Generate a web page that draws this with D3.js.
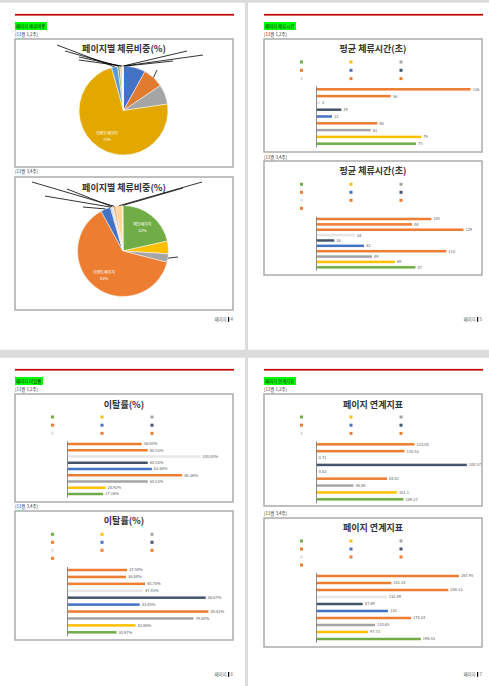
<!DOCTYPE html>
<html><head><meta charset="utf-8">
<script src="https://cdn.jsdelivr.net/npm/d3@7"></script>
<style>body{margin:0;background:#fff}svg{display:block}text{font-family:"Noto Sans CJK KR","Noto Sans",sans-serif}</style>
</head><body><svg id="c" width="489" height="686"></svg>
<script>
// ---------- DATA ----------
const pageCats = ["메인페이지","상품페이지","검색페이지","이벤트페이지","장바구니","주문페이지","회원가입","로그인","마이페이지","고객센터"];
const shareW12 = [8, 7.5, 7.2, 73, 2.2, 0.8, 0.7, 0.3, 0.3];
const shareW34 = [21.5, 4.5, 3, 63, 3.5, 0.4, 0.6, 1, 2.3, 0.2];
const dwellW12 = [75, 79, 41, 46, 12, 19, 3, 56, 116];
const dwellW34 = [87, 69, 49, 114, 42, 16, 34, 129, 84, 101];
const bounceW12 = [27.16, 28.92, 60.53, 86.36, 63.64, 60.53, 100.00, 60.53, 56.00];
const bounceW34 = [30.97, 42.86, 79.08, 88.42, 45.45, 86.67, 47.45, 48.78, 36.84, 37.50];
const linkW12 = [109.27, 101.1, 46.88, 88.81, 0.83, 188.57, 0.71, 110.53, 123.08];
const linkW34 = [196.53, 97.71, 110.65, 178.24, 135, 87.49, 132.49, 248.13, 141.18, 267.95];
const weekLabels = ["[11월 1,2주]", "[11월 3,4주]"];
const sectionLabels = ["페이지 체류비중", "페이지 체류시간", "페이지 이탈률", "페이지 연계지표"];
const chartTitles = ["페이지별 체류비중(%)", "평균 체류시간(초)", "이탈률(%)", "페이지 연계지표"];
const pageNums = ["4", "5", "6", "7"];

// ---------- STYLE ----------
const barColors = ["#70AD47","#FFC000","#A5A5A5","#ED7D31","#4472C4","#44546A","#E7E6E6","#ED7D31","#ED7D31","#ED7D31"];
const pieColorsA = ["#4472C4","#E07A2E","#A5A5A5","#E2A800","#5B9BD5","#70AD47","#F4B183","#FFFFFF","#F8CBAD"];
const pieColorsB = ["#70AD47","#FFC000","#A5A5A5","#ED7D31","#4472C4","#8497B0","#D9D9D9","#F4B183","#FFD699","#F8CBAD"];

const svg = d3.select("#c");
svg.append("rect").attr("width",489).attr("height",686).attr("fill","#dcdcdc");

const pages = [
  {x:0, y:2.7, w:245, h:347, cx:15, lw:32},
  {x:248, y:2.7, w:241, h:347, cx:264, lw:32},
  {x:0, y:357.7, w:245, h:328.3, cx:15, lw:28},
  {x:248, y:357.7, w:241, h:328.3, cx:264, lw:32}
];
pages.forEach((p,i)=>{
  svg.append("rect").attr("x",p.x).attr("y",p.y).attr("width",p.w).attr("height",p.h).attr("fill","#fff");
  svg.append("rect").attr("x",p.cx).attr("y",p.y+11.2).attr("width",219).attr("height",1.7).attr("fill","#C00000");
  svg.append("rect").attr("x",p.cx).attr("y",p.y+19.3).attr("width",p.lw).attr("height",8).attr("fill","#00FF00");
  svg.append("text").attr("x",p.cx+1).attr("y",p.y+25.2).attr("font-size",4.4).attr("fill","#222").text(sectionLabels[i]);
  svg.append("text").attr("x",p.cx).attr("y",p.y+33.2).attr("font-size",4.4).attr("fill","#333").text(weekLabels[0]);
  const ny = p.y + 318.3;
  const rx = p.cx + 218;
  svg.append("text").attr("x",rx).attr("y",ny).attr("text-anchor","end").attr("font-size",4.4).attr("fill","#555").text(pageNums[i]);
  svg.append("rect").attr("x",rx-5).attr("y",ny-4).attr("width",1.2).attr("height",4.8).attr("fill","#000");
  svg.append("text").attr("x",rx-6.5).attr("y",ny).attr("text-anchor","end").attr("font-size",4.4).attr("fill","#555").text("페이지");
});

function frame(x,y,h,title,titleY){
  svg.append("rect").attr("x",x).attr("y",y).attr("width",218).attr("height",h)
    .attr("fill","#fff").attr("stroke","#a6a6a6").attr("stroke-width",1.4);
  svg.append("text").attr("x",x+109).attr("y",titleY+3.2).attr("text-anchor","middle")
    .attr("font-size",9).attr("font-weight","bold").attr("fill","#333").text(title);
}
function subLabel(x,y,t){
  svg.append("text").attr("x",x).attr("y",y+1.6).attr("font-size",4.4).attr("fill","#333").text(t);
}

// ---------- PIES ----------
function pieChart(cfg, values, colors){
  frame(cfg.x,cfg.y,cfg.h,chartTitles[0],cfg.titleY);
  const g = svg.append("g").attr("transform",`translate(${cfg.cx},${cfg.cy})`);
  const arcs = d3.pie().sort(null).value(d=>d)(values);
  const arc = d3.arc().innerRadius(0).outerRadius(cfg.r);
  g.selectAll("path").data(arcs).join("path").attr("d",arc)
    .attr("fill",(d,i)=>colors[i]).attr("stroke","#fff").attr("stroke-width",0.5);
  const lab = d3.arc().innerRadius(cfg.r*0.68).outerRadius(cfg.r*0.68);
  cfg.labels.forEach(i=>{
    const [lx,ly] = lab.centroid(arcs[i]);
    const t = g.append("text").attr("text-anchor","middle").attr("font-size",4).attr("fill","#fff");
    t.append("tspan").attr("x",lx).attr("y",ly-1).text(pageCats[i]);
    t.append("tspan").attr("x",lx).attr("y",ly+5).text(Math.round(values[i])+"%");
  });
  cfg.leaders.forEach(l=>{
    const d = arcs[l.i];
    const a = d.startAngle + (d.endAngle-d.startAngle)*l.f;
    const sx = Math.sin(a)*cfg.r, sy = -Math.cos(a)*cfg.r;
    g.append("line").attr("x1",sx).attr("y1",sy).attr("x2",l.dx).attr("y2",l.dy)
      .attr("stroke","#000").attr("stroke-width",0.8);
  });
}
pieChart({x:15,y:39,h:128,titleY:48.5,cx:123.5,cy:110.5,r:44.5,labels:[3],
  leaders:[{i:4,f:.5,dx:-66.5,dy:-65.5},{i:5,f:.5,dx:-58.5,dy:-59.5},{i:6,f:.5,dx:-44.5,dy:-53.5},
           {i:7,f:.5,dx:-44.5,dy:-50.5},{i:8,f:.5,dx:63.5,dy:-59.5},{i:0,f:.03,dx:79.5,dy:-55.5},
           {i:0,f:.1,dx:49.5,dy:-49.5},{i:1,f:.5,dx:33.5,dy:-40.5}]}, shareW12, pieColorsA);
subLabel(15,171.5,weekLabels[1]);
pieChart({x:15,y:177,h:133,titleY:187.7,cx:123,cy:251,r:45.5,labels:[0,3],
  leaders:[{i:4,f:.5,dx:-40,dy:-44},{i:5,f:.5,dx:-78,dy:-55},{i:6,f:.5,dx:-56,dy:-62},
           {i:7,f:.5,dx:-91,dy:-69},{i:8,f:.5,dx:79,dy:-69},{i:9,f:.5,dx:60,dy:-63},
           {i:2,f:.5,dx:55,dy:6}]}, shareW34, pieColorsB);

// ---------- BARS ----------
const legendCols = [37.5, 87, 137];
function barChart(cfg, values, fmt, title){
  frame(cfg.x,cfg.y,cfg.h,title,cfg.titleY);
  const n = values.length;
  values.forEach((v,i)=>{
    svg.append("rect").attr("x",cfg.x+legendCols[i%3]-1.5).attr("y",cfg.legY+Math.floor(i/3)*cfg.legDy-1.5)
      .attr("width",3).attr("height",3).attr("fill",barColors[i]);
  });
  const step = (cfg.barBot-cfg.barTop)/(n-1);
  const p = 1 - 2.5/step;
  const y = d3.scaleBand().domain(d3.range(n).reverse()).range([cfg.barTop-step/2, cfg.barBot+step/2])
    .paddingInner(p).paddingOuter(p/2);
  const x0 = cfg.x+52;
  const x = d3.scaleLinear().domain([0,cfg.max]).range([x0, x0+160]);
  const g = svg.append("g");
  g.selectAll("rect").data(values).join("rect")
    .attr("x",x0).attr("y",(d,i)=>y(i)).attr("width",d=>x(d)-x0).attr("height",y.bandwidth())
    .attr("fill",(d,i)=>barColors[i]);
  g.selectAll("text").data(values).join("text")
    .attr("x",d=>x(d)+2).attr("y",(d,i)=>y(i)+y.bandwidth()/2+1.4)
    .attr("font-size",4).attr("fill","#595959").text(fmt);
  const ax = svg.append("g").attr("transform",`translate(${x0},0)`)
    .call(d3.axisLeft(y).tickSize(0).tickFormat(""));
  ax.select(".domain").attr("stroke","#808080").attr("stroke-width",0.9);
}
const fInt = d=>String(d), fPct = d=>d.toFixed(2)+"%", fNum = d=>String(d);

barChart({x:264,y:39,h:113,titleY:49,legY:62,legDy:8.3,barTop:89.3,barBot:143.7,max:120}, dwellW12, fInt, chartTitles[1]);
subLabel(264,157.3,weekLabels[1]);
barChart({x:264,y:161,h:114,titleY:171,legY:184.3,legDy:8,barTop:219,barBot:267.3,max:140}, dwellW34, fInt, chartTitles[1]);

barChart({x:15,y:394,h:108,titleY:404.3,legY:417,legDy:8.2,barTop:444,barBot:494,max:120}, bounceW12, fPct, chartTitles[2]);
subLabel(15,506.5,weekLabels[1]);
barChart({x:15,y:511,h:129,titleY:521,legY:534.3,legDy:8,barTop:570,barBot:632.3,max:100}, bounceW34, fPct, chartTitles[2]);

barChart({x:264,y:394,h:112,titleY:404.3,legY:417,legDy:8.2,barTop:444.3,barBot:499.3,max:200}, linkW12, fNum, chartTitles[3]);
subLabel(264,513.3,weekLabels[1]);
barChart({x:264,y:518,h:129,titleY:527.7,legY:541,legDy:8,barTop:576,barBot:639,max:300}, linkW34, fNum, chartTitles[3]);
</script></body></html>
